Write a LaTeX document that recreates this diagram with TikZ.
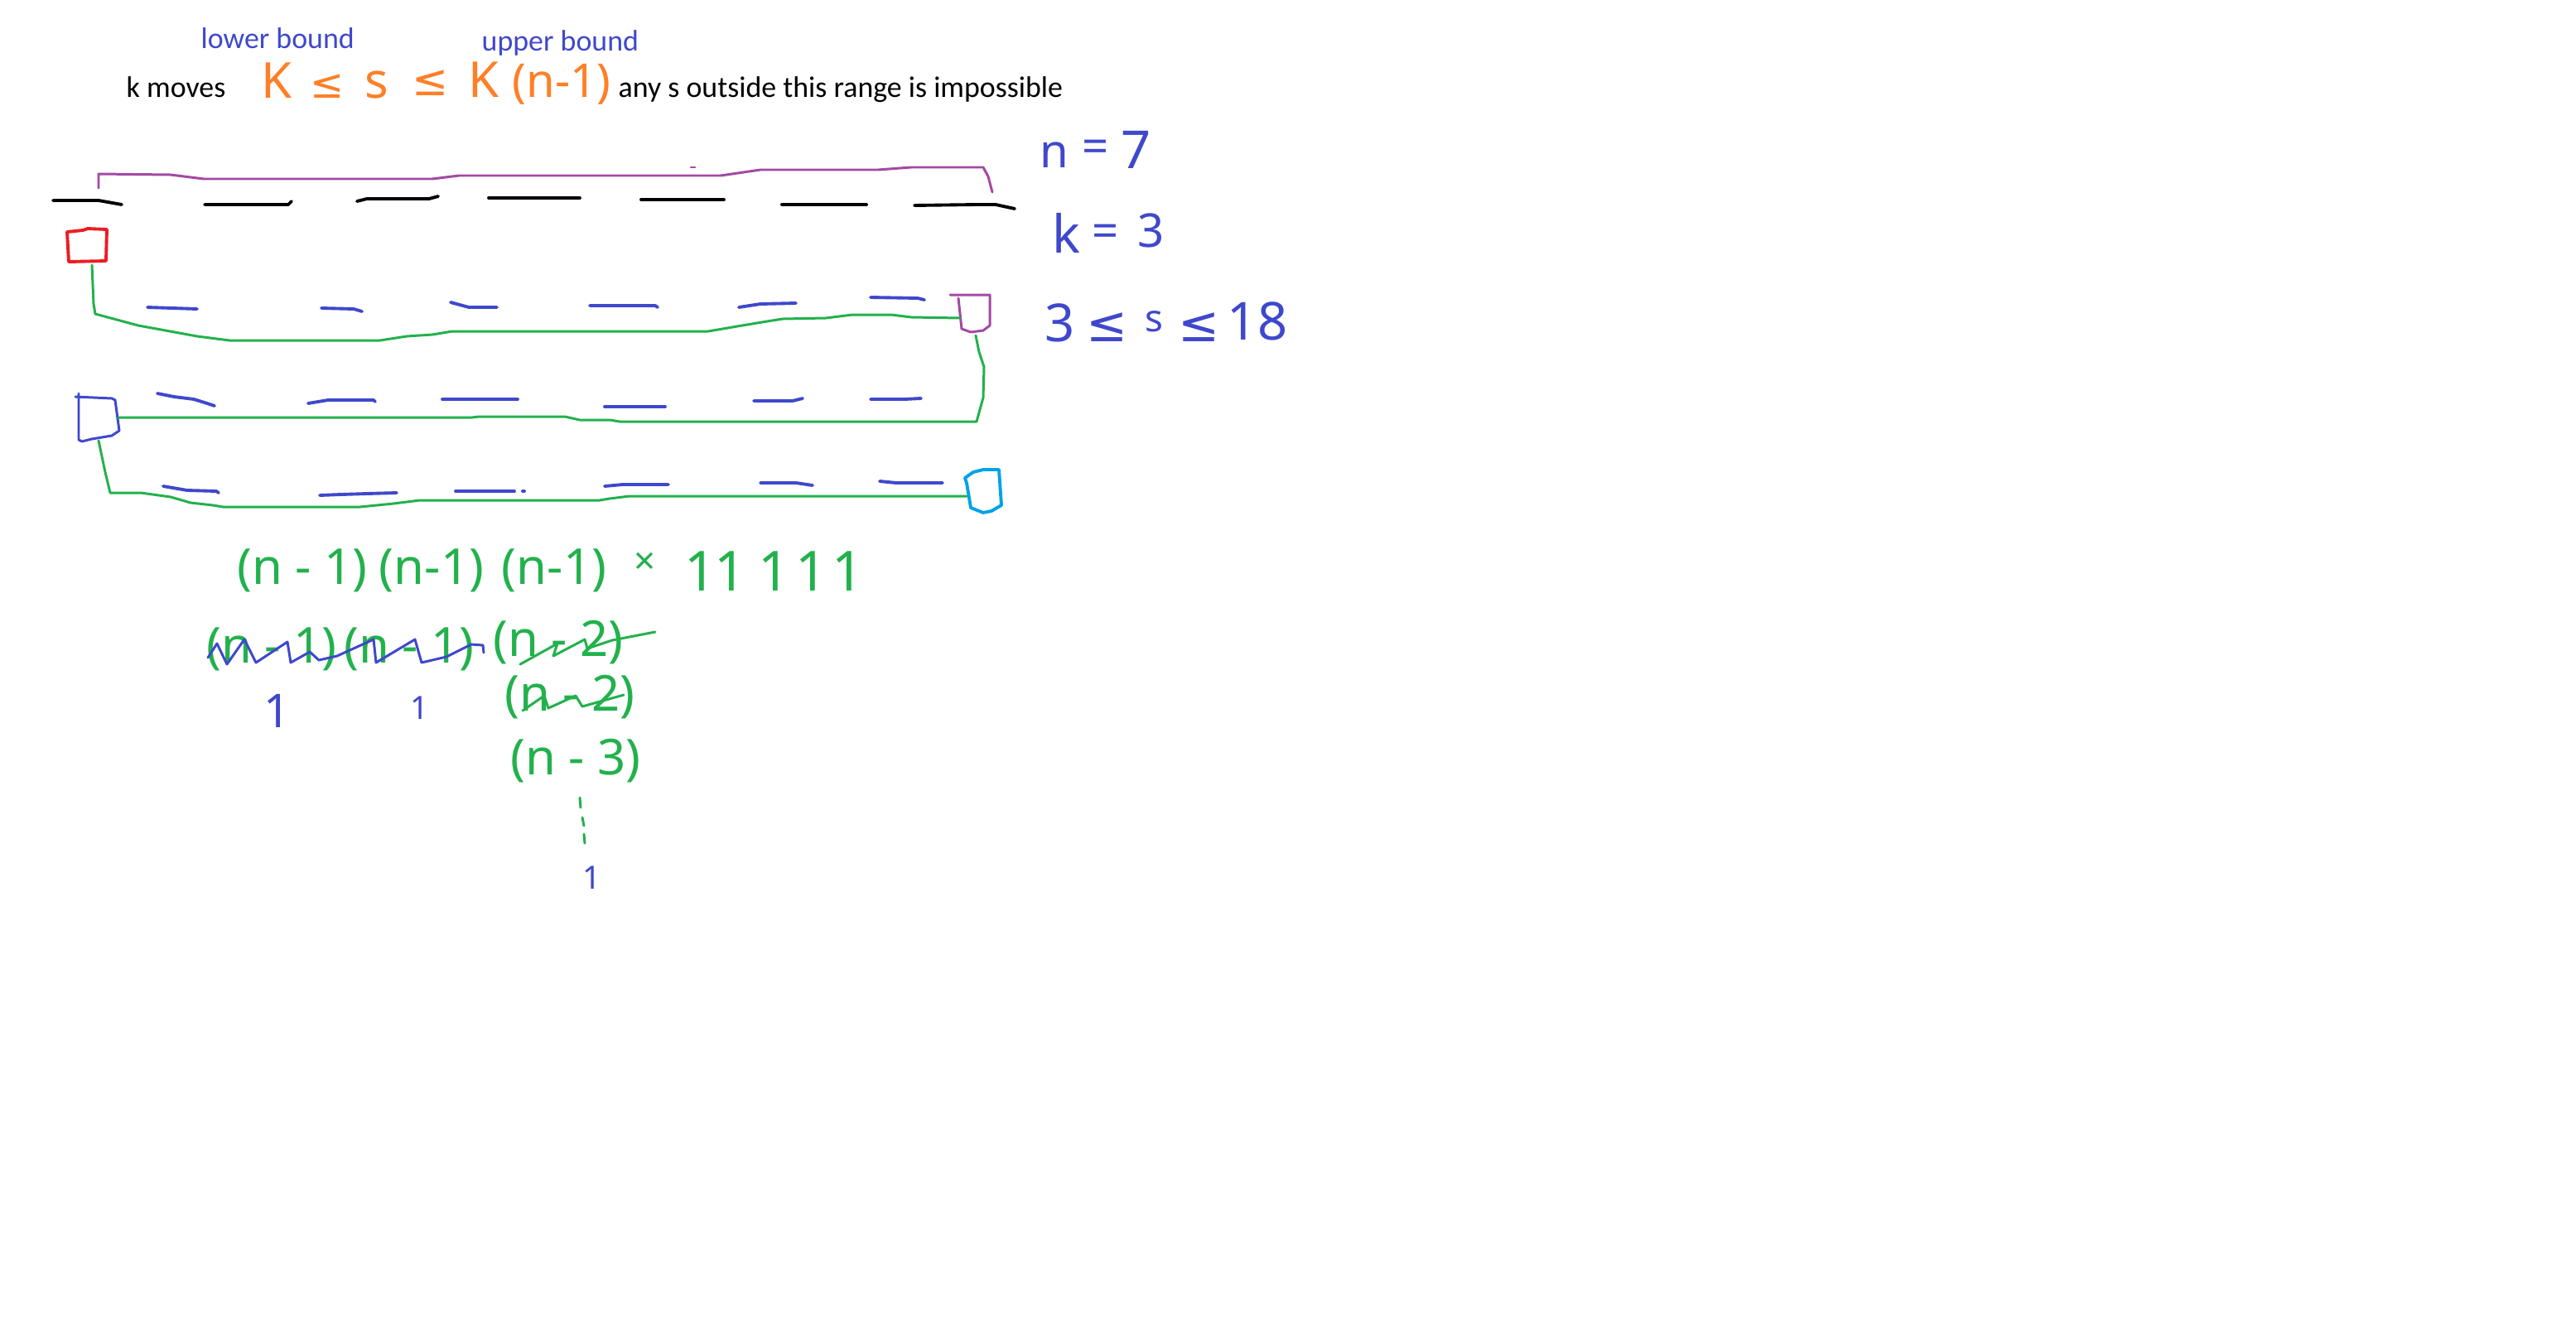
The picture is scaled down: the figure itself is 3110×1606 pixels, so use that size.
\documentclass[tikz,border=0pt]{standalone}
\usepackage{fontspec}
\setmainfont{Carlito}
\newfontfamily\hand{Noto Sans}
\newfontfamily\handsym{DejaVu Sans}
\definecolor{pblue}{HTML}{3F48CC}
\definecolor{pgreen}{HTML}{22B14C}
\definecolor{ppurple}{HTML}{A349A4}
\definecolor{pred}{HTML}{ED1C24}
\definecolor{pturq}{HTML}{00A2E8}
\definecolor{porange}{HTML}{FF7F27}
\tikzset{
  pen/.style={line width=1.1pt, line cap=round, line join=round},
  thinpen/.style={line width=0.85pt, line cap=round, line join=round},
  typed/.style={inner sep=0pt, anchor=base west, font=\fontsize{10.2pt}{12pt}\selectfont},
  hw/.style={inner sep=0pt, anchor=base, font=\hand\fontsize{#1}{20pt}\selectfont},
  hw/.default=17pt,
  hwsym/.style={inner sep=0pt, anchor=base, font=\handsym\fontsize{#1}{16pt}\selectfont},
  hwsym/.default=10pt,
}
\begin{document}
\begin{tikzpicture}[x=0.01cm,y=-0.01cm]
\useasboundingbox (0,0) rectangle (3110,1606);
\fill[white] (0,0) rectangle (3110,1606);

% ---------- typed text ----------
\node[typed, text=pblue] (lb) at (242,58) {lower bound};
\node[typed, text=pblue] (ub) at (581,61) {upper bound};
\node[typed] (km) at (152,117) {k moves};
\node[typed] (imp) at (746,117) {any s outside this range is impossible};

% ---------- orange handwriting ----------
\node[hw, text=porange] (o1) at (334,118) {K};
\node[hwsym=14pt, text=porange] (o2) at (395,118) {≤};
\node[hw, text=porange] (o3) at (455,118) {s};
\node[hwsym=15pt, text=porange] (o4) at (520,115) {≤};
\node[hw, text=porange] (o5) at (584,117) {K};
\node[hw=16pt, text=porange] (o6) at (678,117) {(n-1)};

% ---------- blue handwriting (right) ----------
\node[hw=16pt, text=pblue] (n1) at (1273,202) {n};
\node[hw=16pt, text=pblue] (n2) at (1323,196) {=};
\node[hw=18pt, text=pblue] (n3) at (1372,203) {7};
\node[hw=18pt, text=pblue] (k1) at (1287,305) {k};
\node[hw=16pt, text=pblue] (k2) at (1335,298) {=};
\node[hw=16pt, text=pblue] (k3) at (1390,298) {3};
\node[hw=18pt, text=pblue] (r1) at (1280,412) {3};
\node[hwsym=17pt, text=pblue] (r2) at (1337,412) {≤};
\node[hw=13pt, text=pblue] (r3) at (1393,400) {s};
\node[hwsym=17pt, text=pblue] (r4) at (1448,412) {≤};
\node[hw=18pt, text=pblue] (r5) at (1518,410) {18};

% ---------- black dashes (top row) ----------
\draw[pen] (64,242)--(119,242)--(147,247);
\draw[pen] (247,247)--(348,247)--(352,243);
\draw[pen] (431,243)--(443,240)--(518,240)--(529,237);
\draw[pen] (590,239)--(700,239);
\draw[pen] (774,241)--(874,241);
\draw[pen] (944,247)--(997,247)--(1046,247);
\draw[pen] (1104,248)--(1179,247)--(1202,247)--(1225,252);

% ---------- purple bracket ----------
\draw[thinpen, ppurple] (119,227)--(119,210)--(206,211)--(246,216)--(522,216)--(554,212)--(870,212)--(918,205)--(1060,205)--(1100,202)--(1187,202)--(1193,213)--(1198,232);
\draw[thinpen, ppurple] (834,202)--(839,202);

% ---------- boxes ----------
\draw[pen, pred] (81,280)--(100,278)--(106,276)--(129,277)--(128,315)--(83,316)--cycle;
\coordinate (redbot) at (111,320);
\draw[thinpen, ppurple] (1147,356)--(1195,356)--(1195,393)--(1187,399)--(1172,401)--(1161,397)--(1157,360);
\coordinate (pleft) at (1159,384);
\coordinate (pbot) at (1178,405);
\draw[thinpen, pblue] (91,479)--(135,481)--(139,483)--(144,520)--(135,526)--(111,530)--(99,533)--(95,531)--(95,475);
\coordinate (bright) at (143,504);
\coordinate (bbot) at (119,532);
\draw[pen, pturq] (1165,577)--(1175,570)--(1187,567)--(1206,567)--(1209,610)--(1197,617)--(1187,619)--(1172,613)--(1167,583)--cycle;
\coordinate (tleft) at (1167,599);

% ---------- green connectors ----------
\draw[thinpen, pgreen] (redbot)--(113,367)--(115,379)--(167,393)--(238,406)--(277,411)--(459,411)--(491,406)--(522,404)--(546,400)--(855,400)--(890,394)--(926,388)--(945,385)--(997,384)--(1029,380)--(1076,380)--(1100,383)--(pleft);
\draw[thinpen, pgreen] (pbot)--(1182,425)--(1188,443)--(1187,480)--(1179,509)--(748,509)--(736,507)--(700,507)--(682,503)--(578,503)--(570,504)--(bright);
\draw[thinpen, pgreen] (bbot)--(127,570)--(133,595)--(170,595)--(206,600)--(230,607)--(257,610)--(269,612)--(435,612)--(475,608)--(507,604)--(724,604)--(736,602)--(760,599)--(tleft);

% ---------- blue dashes ----------
\begin{scope}[pen, pblue]
\draw (178,371)--(238,373);
\draw (388,372)--(427,373)--(437,376);
\draw (544,365)--(566,371)--(600,371);
\draw (712,369)--(791,369)--(794,371);
\draw (892,371)--(918,367)--(961,366);
\draw (1051,359)--(1108,360)--(1116,362);
\draw (190,475)--(210,479)--(234,482)--(250,487)--(259,490);
\draw (372,487)--(396,483)--(451,483)--(453,485);
\draw (534,482)--(625,482);
\draw (730,491)--(803,491);
\draw (910,484)--(957,484)--(969,481);
\draw (1051,482)--(1092,482)--(1112,481);
\draw (197,587)--(226,592)--(261,593)--(264,595);
\draw (386,598)--(412,597)--(443,596)--(479,595);
\draw (550,593)--(621,593);
\draw (631,593)--(633,593);
\draw (730,587)--(752,585)--(807,585);
\draw (918,583)--(961,583)--(981,586);
\draw (1062,581)--(1082,583)--(1138,583);
\end{scope}

% ---------- green handwriting ----------
\node[hw, text=pgreen] (g1) at (365,705) {(n - 1)};
\node[hw, text=pgreen] (g2) at (521,705) {(n-1)};
\node[hw, text=pgreen] (g3) at (669,705) {(n-1)};
\node[hw=13pt, text=pgreen] (gx) at (779,693) {×};
\node[hw=19pt, text=pgreen] (u1) at (846,713) {1};
\node[hw=19pt, text=pgreen] (u2) at (882,713) {1};
\node[hw=19pt, text=pgreen] (u3) at (935,713) {1};
\node[hw=19pt, text=pgreen] (u4) at (980,713) {1};
\node[hw=19pt, text=pgreen] (u5) at (1024,713) {1};

\node[hw, text=pgreen] (h1) at (328,800) {(n - 1)};
\node[hw, text=pgreen] (h2) at (494,800) {(n - 1)};
\node[hw, text=pgreen] (h3) at (674,792) {(n - 2)};
\node[hw, text=pgreen] (h4) at (688,858) {(n - 2)};
\node[hw, text=pgreen] (h5) at (695,935) {(n - 3)};

% strike-outs
\draw[thinpen, pblue] (251,794)--(262,777)--(274,802)--(295,772)--(309,800)--(347,775)--(351,800)--(374,787)--(385,797)--(407,792)--(451,772)--(454,800)--(501,772)--(509,800)--(539,793)--(569,778)--(583,779)--(584,788);
\draw[thinpen, pgreen] (628,802)--(673,777)--(668,792)--(706,772)--(709,783)--(739,773)--(791,763);
\draw[thinpen, pgreen] (631,858)--(657,840)--(662,855)--(695,840)--(703,853)--(753,839);

% blue ones and dotted continuation
\node[hw=16pt, text=pblue] (v1) at (335,878) {1};
\node[hw=11pt, text=pblue] (v2) at (507,868) {1};
\draw[thinpen, pgreen] (700,963)--(701,975);
\draw[thinpen, pgreen] (703,987)--(705,997);
\draw[thinpen, pgreen] (705,1007)--(706,1018);
\node[hw=11pt, text=pblue] (v3) at (715,1073) {1};
\end{tikzpicture}
\end{document}
